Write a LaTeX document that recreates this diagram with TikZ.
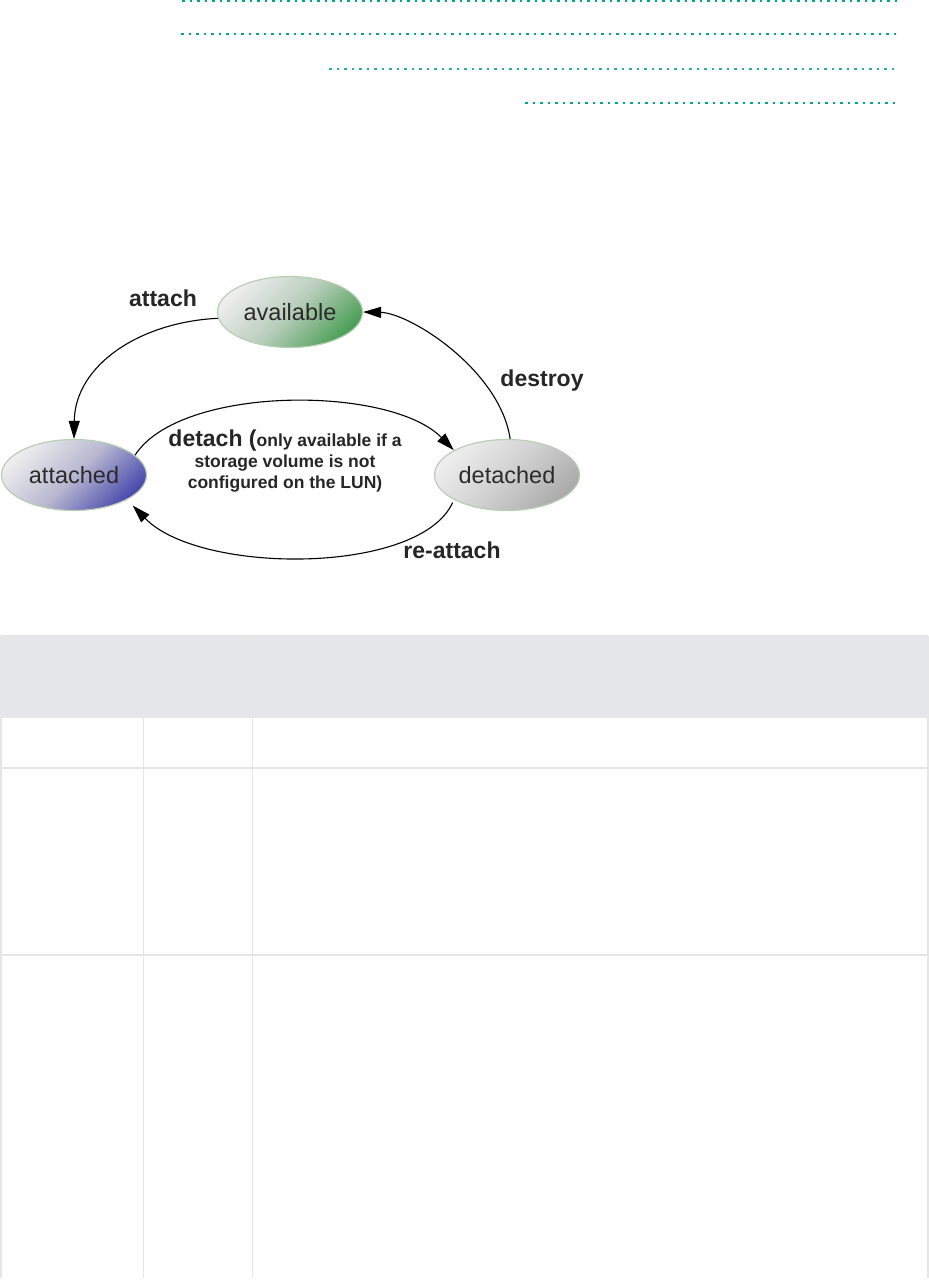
\documentclass[tikz,border=0pt]{standalone}
\usepackage{fontspec}
\setmainfont{Liberation Sans}
\usetikzlibrary{shapes.geometric,arrows.meta}
\definecolor{hpegreen}{HTML}{01A982}
\definecolor{rulegray}{HTML}{E6E6E6}
\definecolor{headgray}{HTML}{E3E7E8}
\definecolor{stateline}{HTML}{B9CFB4}
\definecolor{statetext}{HTML}{2B2B2B}
\definecolor{availdark}{HTML}{4C9F57}
\definecolor{attacheddark}{HTML}{4B4BAE}
\definecolor{detacheddark}{HTML}{ABABAB}

\begin{document}
\begin{tikzpicture}[x=1pt,y=-1pt,
    state/.style={ellipse,draw=stateline,line width=1.2pt,minimum width=145pt,minimum height=71pt,
        inner sep=0pt,text=statetext,font=\fontsize{23.5}{26}\selectfont},
    fillstate/.style={top color=white!93!black,bottom color=#1,middle color=#1!28!white!90!black,shading angle=45},
    lbl/.style={font=\fontsize{23}{26}\selectfont\bfseries,text=black!85,inner sep=0pt},
    trans/.style={line width=1.1pt,-{Triangle[length=18pt,width=11pt]}},
    leader/.style={hpegreen,line width=2.6pt,dash pattern=on 2.8pt off 4.7pt},
    tabrule/.style={rulegray,line width=1.5pt}]
        \useasboundingbox (0,0) rectangle (929,1280);
        \draw[leader] (182,0.4) -- (897,0.4);
        \draw[leader] (181,34) -- (897,34);
        \draw[leader,line width=1.1pt,dash pattern=on 2.6pt off 4.9pt,hpegreen!85] (329,69) -- (897,69);
        \draw[leader] (525,103) -- (897,103);
        \node[state,fillstate=availdark] (avail) at (290,312) {available};
        \node[state,fillstate=attacheddark] (attached) at (74,475) {attached};
        \node[state,fillstate=detacheddark] (detached) at (507,475) {detached};
        \draw[trans] (avail.185) .. controls (140,322) and (75,365) .. (attached.north);
        \draw[trans] (attached.18) .. controls (180,385) and (390,385) .. (detached.155);
        \draw[trans] (detached.85) .. controls (500,370) and (410,313) .. (avail.east);
        \draw[trans,shorten <=3pt,shorten >=8pt] (detached.205) .. controls (420,575) and (200,575) .. (attached.-25);
        \node[lbl,anchor=base] (attachlbl) at (163,306) {attach};
        \node[lbl,anchor=base] (destroylbl) at (542,386) {destroy};
        \node[lbl,anchor=base] (reattachlbl) at (452,558) {re-attach};
        \node[lbl,align=center,anchor=north,font=\fontsize{17.5}{21}\selectfont\bfseries] (detachlbl) at (285,430)
            {{\fontsize{23}{21}\selectfont detach (}only available if a\\storage volume is not\\configured on the LUN)};
        \fill[headgray] (1,636) rectangle (928,717);
        \draw[tabrule] (1,636) -- (928,636);
        \foreach \x in {1,143.5,252.5,928}
            \draw[tabrule] (\x,636) -- (\x,1278);
        \foreach \y in {717,768}
            \draw[tabrule] (1,\y) -- (928,\y);
        \draw[tabrule,line width=2.5pt] (1,955) -- (928,955);
\end{tikzpicture}
\end{document}
